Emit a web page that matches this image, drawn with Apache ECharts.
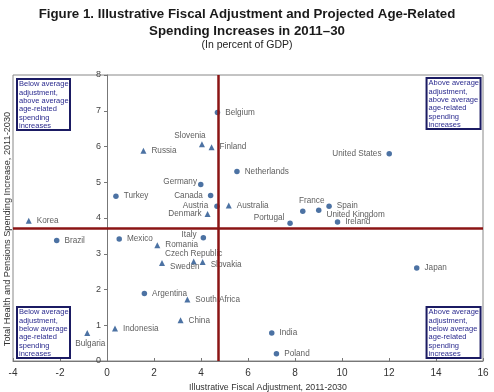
<!DOCTYPE html>
<html><head><meta charset="utf-8">
<script src="https://cdn.jsdelivr.net/npm/echarts@6/dist/echarts.min.js"></script>
<style>html,body{margin:0;padding:0;background:#fff}#c{width:494px;height:392px}</style>
</head><body><div id="c"></div>
<script>
// Countries shown as circles
const circleNames = ['Belgium','Netherlands','Germany','Canada','Austria','France','United Kingdom','Spain','Portugal','Ireland','United States','Japan','Italy','Mexico','Brazil','Turkey','Argentina','India','Poland'];
const circleX = [4.70,5.53,3.99,4.41,4.68,8.33,9.01,9.45,7.79,9.81,12.01,13.18,4.10,0.52,-2.14,0.38,1.59,7.01,7.21];
const circleY = [6.95,5.30,4.94,4.63,4.33,4.19,4.22,4.33,3.85,3.89,5.80,2.60,3.45,3.41,3.37,4.61,1.89,0.78,0.20];
// Countries shown as triangles
const triNames = ['Slovenia','Finland','Russia','Australia','Denmark','Romania','Czech Republic','Slovakia','Sweden','Korea','South Africa','China','Indonesia','Bulgaria'];
const triX = [4.04,4.45,1.55,5.18,4.28,2.14,3.69,4.07,2.34,-3.33,3.42,3.13,0.34,-0.84];
const triY = [6.06,5.98,5.88,4.35,4.11,3.24,2.78,2.77,2.74,3.92,1.72,1.14,0.91,0.78];
// Averages
const avgAdjustment = 4.75;
const avgSpending = 3.70;
// Axis ranges / ticks
const xMin = -4, xMax = 16, xStep = 2;
const yMin = 0, yMax = 8, yStep = 1;

// label placement (style)
const labelStyle = {
  'Germany': {position:'left', distance:1, offset:[0,-3]},
  'Canada': {position:'left', distance:5},
  'Austria': {position:'left', distance:6},
  'Denmark': {position:'left', distance:3},
  'Portugal': {position:'left', distance:3, offset:[0,-6]},
  'United States': {position:'left', distance:5},
  'Italy': {position:'left', distance:4, offset:[0,-3]},
  'Slovenia': {position:'top', distance:2, offset:[-12,0]},
  'France': {position:'top', distance:4, offset:[9,0]},
  'United Kingdom': {position:'right', distance:5, offset:[0,5]},
  'Sweden': {position:'right', distance:5, offset:[0,4]},
  'Slovakia': {position:'right', distance:5, offset:[0,3]},
  'Czech Republic': {position:'top', distance:1},
  'Bulgaria': {position:'bottom', distance:4, offset:[3,0]}
};
function mk(names, xs, ys){
  return names.map((n,i)=>{
    const o = {name:n, value:[xs[i], ys[i]]};
    const ls = labelStyle[n] || {position:'right', distance:5};
    o.label = Object.assign({show:true}, ls);
    return o;
  });
}
const FONT = 'Liberation Sans, Arial, sans-serif';
const ptColor = '#1f4f8c';
const boxText = {fontSize:7.5, lineHeight:8.4, color:'#2b2b8f', fontWeight:'normal', fontFamily:FONT};
const boxCommon = {borderColor:'#1b1b63', borderWidth:2, padding:[1,2,0,2], backgroundColor:'#fff', textStyle:boxText};
const ptLabel = {fontSize:8.2, color:'#333', formatter:'{b}'};

const chart = echarts.init(document.getElementById('c'), null, {renderer:'canvas'});
chart.setOption({
  animation:false,
  textStyle:{fontFamily:FONT},
  title:[
    {text:'Figure 1. Illustrative Fiscal Adjustment and Projected Age-Related\nSpending Increases in 2011–30', subtext:'(In percent of GDP)', left:'center', top:1, itemGap:0,
      textStyle:{fontSize:13.3, fontWeight:'bold', color:'#1a1a1a', lineHeight:17, fontFamily:FONT},
      subtextStyle:{fontSize:10.5, color:'#222', fontFamily:FONT}},
    Object.assign({text:'Below average\nadjustment,\nabove average\nage-related\nspending\nincreases', left:17, top:79}, boxCommon),
    Object.assign({text:'Above average\nadjustment,\nabove average\nage-related\nspending\nincreases', right:13, top:78}, boxCommon),
    Object.assign({text:'Below average\nadjustment,\nbelow average\nage-related\nspending\nincreases', left:17, top:307}, boxCommon),
    Object.assign({text:'Above average\nadjustment,\nbelow average\nage-related\nspending\nincreases', right:13, top:307}, boxCommon)
  ],
  graphic:[
    {type:'text', x:7, y:229, rotation:Math.PI/2,
      style:{text:'Total Health and Pensions Spending Increase, 2011-2030', font:'9.2px ' + FONT, fill:'#333', align:'center', verticalAlign:'middle', textAlign:'center', textVerticalAlign:'middle'}}
  ],
  grid:{left:13, right:11, top:75, bottom:31, show:true, borderColor:'#888', borderWidth:1, outerBoundsMode:'none', containLabel:false},
  xAxis:{type:'value', min:xMin, max:xMax, interval:xStep,
    name:'Illustrative Fiscal Adjustment, 2011-2030', nameLocation:'middle', nameGap:16,
    nameTextStyle:{fontSize:8.8, color:'#333', padding:[0,0,0,40]},
    axisLine:{onZero:false, lineStyle:{color:'#777'}}, axisTick:{inside:true, length:3, lineStyle:{color:'#777'}},
    axisLabel:{fontSize:10, color:'#333', margin:7}, splitLine:{show:false}},
  yAxis:{type:'value', min:yMin, max:yMax, interval:yStep, offset:-94,
    axisLine:{onZero:false, lineStyle:{color:'#777'}}, axisTick:{length:3, lineStyle:{color:'#777'}},
    axisLabel:{fontSize:9, color:'#444', margin:6}, splitLine:{show:false}},
  series:[
    {type:'scatter', symbol:'circle', symbolSize:5.5, itemStyle:{color:ptColor},
      label:ptLabel,
      data:mk(circleNames, circleX, circleY),
      markLine:{silent:true, symbol:'none', label:{show:false}, animation:false,
        lineStyle:{color:'#8b1414', width:2.5, type:'solid'},
        data:[{xAxis:avgAdjustment},{yAxis:avgSpending}]}},
    {type:'scatter', symbol:'triangle', symbolSize:6, itemStyle:{color:ptColor},
      label:ptLabel,
      data:mk(triNames, triX, triY)}
  ]
});
</script></body></html>
